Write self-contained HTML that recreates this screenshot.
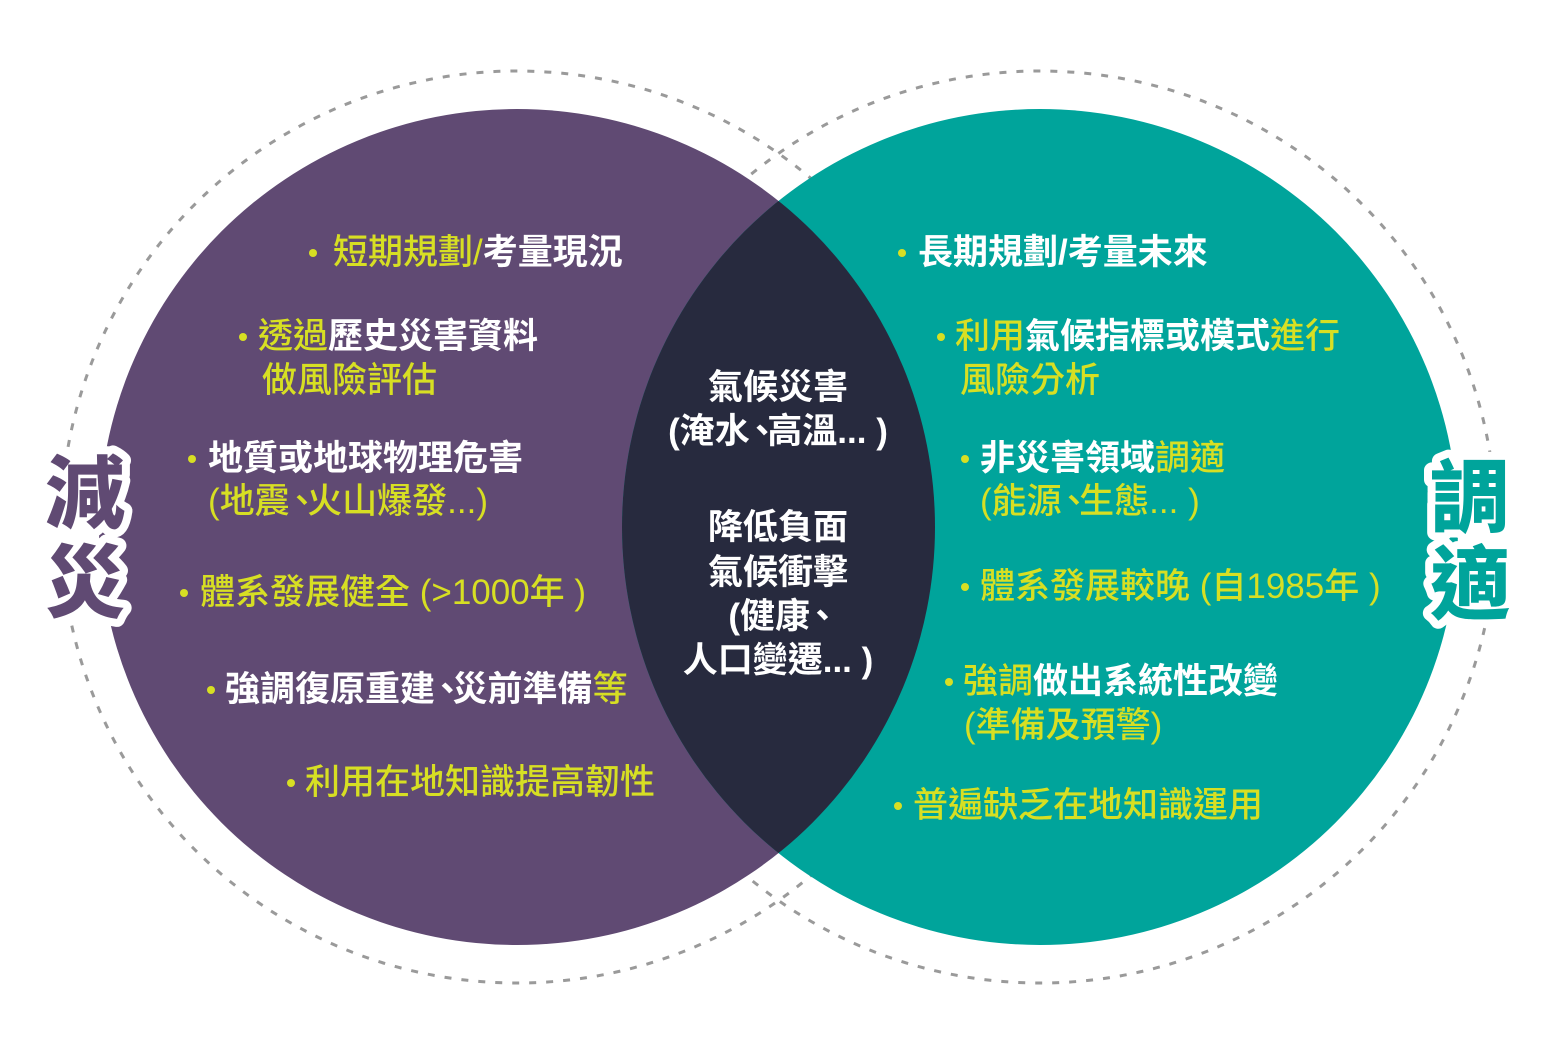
<!DOCTYPE html>
<html><head><meta charset="utf-8"><style>
html,body{margin:0;padding:0;background:#fff;}
#c{position:relative;width:1554px;height:1048px;overflow:hidden;font-family:"Liberation Sans","Noto Sans CJK TC",sans-serif;}
svg{position:absolute;left:0;top:0;}
.t{position:absolute;font-size:35px;line-height:44px;white-space:nowrap;font-weight:700;color:#fff;}
.y{color:#d7df23;font-weight:500;}
.w{color:#fff;font-weight:700;}
.b{position:absolute;width:8px;height:8px;border-radius:50%;background:#d7df23;}
.cc{position:absolute;left:578px;width:400px;text-align:center;font-size:35px;line-height:44px;color:#fff;font-weight:700;}
.k{margin-left:-0.15em;margin-right:-0.35em;}
</style></head><body><div id="c">
<svg width="1554" height="1048" viewBox="0 0 1554 1048">
<defs>
<clipPath id="lc"><circle cx="517" cy="527" r="418"/></clipPath>
</defs>
<circle cx="517" cy="527" r="456" fill="none" stroke="#9a9a9a" stroke-width="3" stroke-dasharray="7 10"/>
<circle cx="1040" cy="527" r="456" fill="none" stroke="#9a9a9a" stroke-width="3" stroke-dasharray="7 10"/>
<circle cx="517" cy="527" r="418" fill="#604a73"/>
<circle cx="1040" cy="527" r="418" fill="#00a49b"/>
<circle cx="1040" cy="527" r="418" fill="#272a3e" clip-path="url(#lc)"/>
<g font-family="Liberation Sans, Noto Sans CJK TC, sans-serif" font-weight="900" font-size="80" text-anchor="middle" stroke="#fff" stroke-width="16" stroke-linejoin="round" paint-order="stroke">
<text x="85" y="522" fill="#604a73">減</text>
<text x="85" y="611" fill="#604a73">災</text>
<text x="1470" y="526" fill="#00a49b">調</text>
<text x="1470" y="613" fill="#00a49b">適</text>
</g>
</svg>

<div class="b" style="left:309px;top:249px"></div>
<div class="t" style="left:333px;top:231px"><span class="y">短期規劃/</span>考量現況</div>

<div class="b" style="left:239px;top:333px"></div>
<div class="t" style="left:258px;top:315px"><span class="y">透過</span>歷史災害資料</div>
<div class="t y" style="left:262px;top:359px">做風險評估</div>

<div class="b" style="left:188px;top:455px"></div>
<div class="t" style="left:208px;top:437px">地質或地球物理危害</div>
<div class="t y" style="left:208px;top:480px">(地震<span class="k">、</span>火山爆發...)</div>

<div class="b" style="left:180px;top:589px"></div>
<div class="t y" style="left:200px;top:571px">體系發展健全 (&gt;1000年 )</div>

<div class="b" style="left:207px;top:686px"></div>
<div class="t" style="left:225px;top:668px">強調復原重建<span class="k">、</span>災前準備<span class="y">等</span></div>

<div class="b" style="left:287px;top:779px"></div>
<div class="t y" style="left:305px;top:761px">利用在地知識提高韌性</div>

<div class="cc" style="top:366px">氣候災害</div>
<div class="cc" style="top:410px">(淹水<span class="k">、</span>高溫... )</div>
<div class="cc" style="top:506px">降低負面</div>
<div class="cc" style="top:551px">氣候衝擊</div>
<div class="cc" style="top:595px">(健康<span class="k">、</span></div>
<div class="cc" style="top:639px">人口變遷... )</div>

<div class="b" style="left:898px;top:249px"></div>
<div class="t" style="left:918px;top:231px">長期規劃/考量未來</div>

<div class="b" style="left:937px;top:333px"></div>
<div class="t" style="left:955px;top:315px"><span class="y">利用</span>氣候指標或模式<span class="y">進行</span></div>
<div class="t y" style="left:960px;top:359px">風險分析</div>

<div class="b" style="left:961px;top:455px"></div>
<div class="t" style="left:980px;top:437px">非災害領域<span class="y">調適</span></div>
<div class="t y" style="left:980px;top:480px">(能源<span class="k">、</span>生態... )</div>

<div class="b" style="left:961px;top:583px"></div>
<div class="t y" style="left:980px;top:565px">體系發展較晚 (自1985年 )</div>

<div class="b" style="left:945px;top:678px"></div>
<div class="t" style="left:963px;top:660px"><span class="y">強調</span>做出系統性改變</div>
<div class="t y" style="left:964px;top:704px">(準備及預警)</div>

<div class="b" style="left:894px;top:802px"></div>
<div class="t y" style="left:913px;top:784px">普遍缺乏在地知識運用</div>
</div></body></html>
